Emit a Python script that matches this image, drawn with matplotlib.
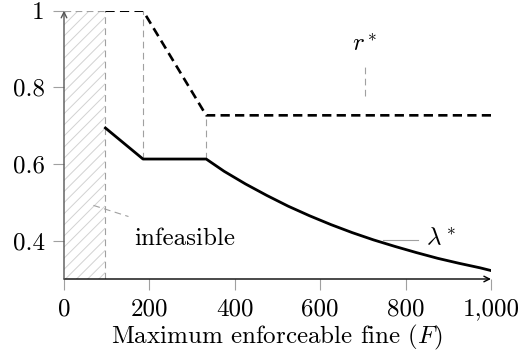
import matplotlib
matplotlib.use("Agg")
import matplotlib.pyplot as plt

plt.rcParams['font.family'] = 'serif'
plt.rcParams['font.serif'] = ['cmr10']
plt.rcParams['mathtext.fontset'] = 'cm'
plt.rcParams['axes.formatter.use_mathtext'] = True
plt.rcParams['hatch.linewidth'] = 0.7

# data
F_bounds = [97, 185, 333]          # infeasible limit and kinks
F_r = [97, 185, 333, 1000]
r_star = [1.0, 1.0, 0.727, 0.727]
F_lam = [97, 185, 333, 375, 425, 475, 525, 575, 625, 675, 725, 775, 825, 875, 925, 975, 1000]
lam_star = [0.694, 0.613, 0.613, 0.581, 0.548, 0.518, 0.490, 0.465, 0.442, 0.421,
            0.402, 0.385, 0.369, 0.354, 0.341, 0.329, 0.322]
xticks = [0, 200, 400, 600, 800, 1000]
xticklabels = ['0', '200', '400', '600', '800', '1,000']
yticks = [0.4, 0.6, 0.8, 1.0]
yticklabels = ['0.4', '0.6', '0.8', '1']

fs = 18
fig = plt.figure(figsize=(5.2, 3.58), dpi=100)
ax = fig.add_axes([64/520, 1-279/358, 427/520, (279-10.7)/358])
ax.set_xlim(0, 1000)
ax.set_ylim(0.3, 1.0)

gray = '#a0a0a0'
dash = (0, (6, 4))
# infeasible region
ax.fill_between([0, F_bounds[0]], 0.3, 1.0, facecolor='none', edgecolor='#d2d2d2',
                hatch='///', linewidth=0)

# helper lines
ax.plot([0, F_bounds[0]], [1, 1], ls=dash, color=gray, lw=0.8)
ax.plot([F_bounds[0], F_bounds[0]], [0.3, 1], ls=dash, color=gray, lw=0.8)
ax.plot([F_bounds[1], F_bounds[1]], [lam_star[1], 1], ls=dash, color=gray, lw=0.8)
ax.plot([F_bounds[2], F_bounds[2]], [lam_star[2], r_star[2]], ls=dash, color=gray, lw=0.8)

ax.plot(F_r, r_star, color='black', lw=1.9, ls=(0, (3.5, 2)))
ax.plot(F_lam, lam_star, color='black', lw=2.0, solid_joinstyle='round')

# labels with pins
ax.plot([705, 705], [0.778, 0.864], ls=dash, color=gray, lw=0.8)
ax.text(705, 0.91, r'$r^*$', fontsize=fs, ha='center', va='center')
ax.plot([747, 829], [0.401, 0.401], color=gray, lw=0.8)
ax.text(882, 0.405, r'$\lambda^*$', fontsize=fs, ha='center', va='center')
ax.plot([69, 151], [0.492, 0.463], ls=dash, color=gray, lw=0.8)
ax.text(283, 0.405, 'infeasible', fontsize=fs, ha='center', va='center')

# axes with arrows
for s in ax.spines.values():
    s.set_visible(False)
ax.annotate('', xy=(1000, 0.3), xytext=(0, 0.3), xycoords='data',
            arrowprops=dict(arrowstyle='->', lw=1.0, color='black', shrinkA=0, shrinkB=0),
            annotation_clip=False)
ax.annotate('', xy=(0, 1.0), xytext=(0, 0.3), xycoords='data',
            arrowprops=dict(arrowstyle='->', lw=1.0, color='#555555', shrinkA=0, shrinkB=0),
            annotation_clip=False)

ax.set_xticks(xticks)
ax.set_xticklabels(xticklabels)
ax.set_yticks(yticks)
ax.set_yticklabels(yticklabels)
ax.tick_params(direction='out', length=8, width=0.8, color=gray, labelsize=fs, pad=6)
ax.set_xlabel('Maximum enforceable fine ($F$)', fontsize=fs, labelpad=2)

fig.savefig('out.png', dpi=100)
